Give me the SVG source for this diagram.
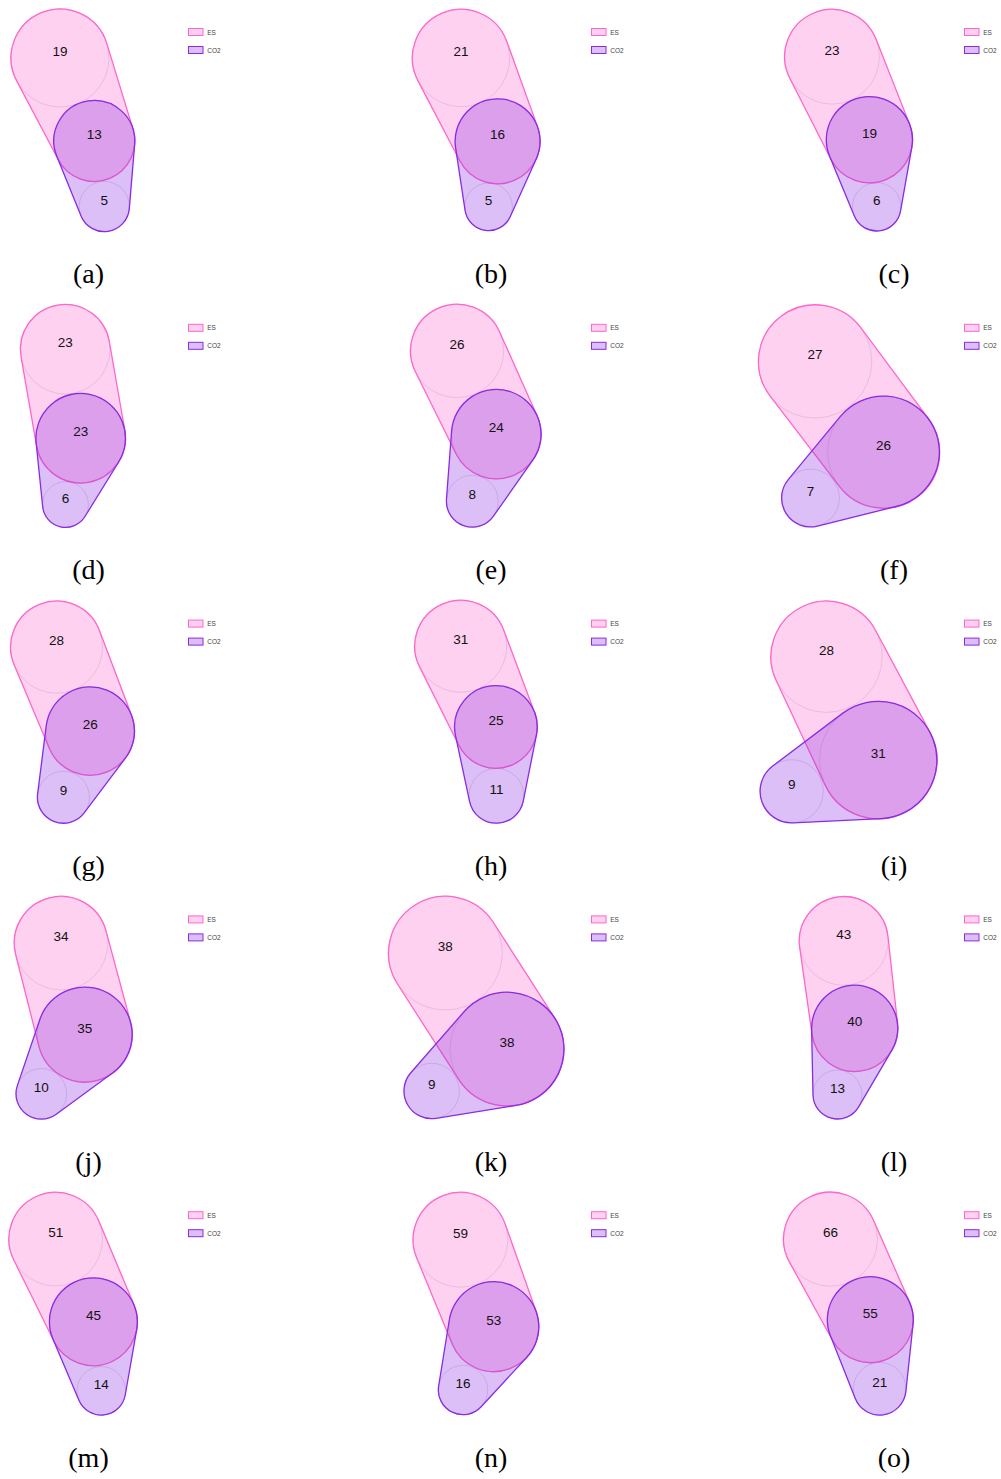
<svg xmlns="http://www.w3.org/2000/svg" width="1001" height="1479" viewBox="0 0 1001 1479">
<style>
.es{fill:#ff66cc;fill-opacity:0.3;stroke:#ff66cc;stroke-width:1.3}
.co{fill:#8a2be2;fill-opacity:0.3;stroke:#8a2be2;stroke-width:1.3}
.gc{fill:none;stroke:#000;stroke-opacity:0.15;stroke-width:0.8}
.lbl{font-family:"Liberation Sans",Arial,sans-serif;font-size:13.5px;text-anchor:middle;fill:#111}
.lg{font-family:"Liberation Sans",Arial,sans-serif;font-size:6.5px;fill:#444}
.cap{font-family:"Liberation Serif","Times New Roman",serif;font-size:28px;text-anchor:middle;fill:#000}
.les{fill:#ff66cc;fill-opacity:0.3;stroke:#ff66cc;stroke-width:1}
.lco{fill:#8a2be2;fill-opacity:0.3;stroke:#8a2be2;stroke-width:1}
</style>
<rect width="1001" height="1479" fill="#fff"/>
<defs>
<g id="legend">
<rect class="les" x="0" y="0" width="14.5" height="7"/>
<text class="lg" x="18.7" y="6">ES</text>
<rect class="lco" x="0" y="18" width="14.5" height="7"/>
<text class="lg" x="18.7" y="24">CO2</text>
</g>
</defs>

<g id="connectors"></g>

<!-- (a) -->
<g id="panel-a">
<circle class="gc" cx="60" cy="58" r="49"/><circle class="gc" cx="94.3" cy="141" r="40.5"/><circle class="gc" cx="104.3" cy="206.5" r="25.1"/>
<path id="a-es" class="es" d="M16.69,80.91 L58.5,159.94 A40.5,40.5 0 0 0 133.02,129.14 L106.85,43.65 A49,49 0 1 0 16.69,80.91 Z"/>
<path id="a-co2" class="co" d="M56.78,156.25 L81.05,215.95 A25.1,25.1 0 0 0 129.31,208.58 L134.66,144.36 A40.5,40.5 0 1 0 56.78,156.25 Z"/>
<text class="lbl" x="60" y="56">19</text><text class="lbl" x="94.3" y="139">13</text><text class="lbl" x="104.3" y="204.5">5</text>
<use href="#legend" x="188.5" y="28.5"/>
<text class="cap" x="88.5" y="283">(a)</text>
</g>

<!-- (b) -->
<g id="panel-b">
<circle class="gc" cx="461" cy="58" r="48.7"/><circle class="gc" cx="497.6" cy="141.3" r="42.5"/><circle class="gc" cx="488.6" cy="206.8" r="23.8"/>
<path id="b-es" class="es" d="M417.85,80.58 L459.94,161 A42.5,42.5 0 0 0 537.58,126.89 L506.82,41.49 A48.7,48.7 0 1 0 417.85,80.58 Z"/>
<path id="b-co2" class="co" d="M455.58,147.66 L465.07,210.36 A23.8,23.8 0 0 0 510.3,216.57 L536.35,158.75 A42.5,42.5 0 1 0 455.58,147.66 Z"/>
<text class="lbl" x="461" y="56">21</text><text class="lbl" x="497.6" y="139.3">16</text><text class="lbl" x="488.6" y="204.8">5</text>
<use href="#legend" x="591.5" y="28.5"/>
<text class="cap" x="491" y="283">(b)</text>
</g>

<!-- (c) -->
<g id="panel-c">
<circle class="gc" cx="832" cy="56.7" r="47.4"/><circle class="gc" cx="869.4" cy="139.7" r="43.1"/><circle class="gc" cx="876.7" cy="206.8" r="24.2"/>
<path id="c-es" class="es" d="M789.75,78.19 L830.98,159.24 A43.1,43.1 0 0 0 909.49,123.87 L876.09,39.29 A47.4,47.4 0 1 0 789.75,78.19 Z"/>
<path id="c-co2" class="co" d="M829.58,156.17 L854.34,216.05 A24.2,24.2 0 0 0 900.53,211.02 L911.84,147.22 A43.1,43.1 0 1 0 829.58,156.17 Z"/>
<text class="lbl" x="832" y="54.7">23</text><text class="lbl" x="869.4" y="137.7">19</text><text class="lbl" x="876.7" y="204.8">6</text>
<use href="#legend" x="964.5" y="28.5"/>
<text class="cap" x="894" y="283">(c)</text>
</g>

<!-- (d) -->
<g id="panel-d">
<circle class="gc" cx="65.2" cy="349.2" r="44.8"/><circle class="gc" cx="80.7" cy="438.2" r="44.8"/><circle class="gc" cx="65.5" cy="504.5" r="22.9"/>
<path id="d-es" class="es" d="M21.06,356.89 L36.56,445.89 A44.8,44.8 0 0 0 124.84,430.51 L109.34,341.51 A44.8,44.8 0 0 0 21.06,356.89 Z"/>
<path id="d-co2" class="co" d="M36.13,442.78 L42.72,506.84 A22.9,22.9 0 0 0 84.98,516.53 L118.82,461.74 A44.8,44.8 0 1 0 36.13,442.78 Z"/>
<text class="lbl" x="65.2" y="347.2">23</text><text class="lbl" x="80.7" y="436.2">23</text><text class="lbl" x="65.5" y="502.5">6</text>
<use href="#legend" x="188.5" y="324.3"/>
<text class="cap" x="88.5" y="579">(d)</text>
</g>

<!-- (e) -->
<g id="panel-e">
<circle class="gc" cx="457.1" cy="351" r="46.6"/><circle class="gc" cx="496.3" cy="434.2" r="44.8"/><circle class="gc" cx="472.3" cy="501.2" r="25.9"/>
<path id="e-es" class="es" d="M415.35,371.68 L456.16,454.08 A44.8,44.8 0 0 0 537.19,415.9 L499.64,331.97 A46.6,46.6 0 1 0 415.35,371.68 Z"/>
<path id="e-co2" class="co" d="M451.63,430.84 L446.47,499.25 A25.9,25.9 0 0 0 493.49,516.1 L532.95,459.96 A44.8,44.8 0 1 0 451.63,430.84 Z"/>
<text class="lbl" x="457.1" y="349">26</text><text class="lbl" x="496.3" y="432.2">24</text><text class="lbl" x="472.3" y="499.2">8</text>
<use href="#legend" x="591.5" y="324.3"/>
<text class="cap" x="491" y="579">(e)</text>
</g>

<!-- (f) -->
<g id="panel-f">
<circle class="gc" cx="815" cy="361.3" r="56.8"/><circle class="gc" cx="883.5" cy="452" r="55.9"/><circle class="gc" cx="810.5" cy="498" r="28.9"/>
<path id="f-es" class="es" d="M769.95,395.89 L839.16,486.04 A55.9,55.9 0 0 0 928.38,418.66 L860.6,327.42 A56.8,56.8 0 1 0 769.95,395.89 Z"/>
<path id="f-co2" class="co" d="M840.4,416.4 L788.22,479.6 A28.9,28.9 0 0 0 817.48,526.04 L897.01,506.25 A55.9,55.9 0 1 0 840.4,416.4 Z"/>
<text class="lbl" x="815" y="359.3">27</text><text class="lbl" x="883.5" y="450">26</text><text class="lbl" x="810.5" y="496">7</text>
<use href="#legend" x="964.5" y="324.3"/>
<text class="cap" x="894" y="579">(f)</text>
</g>

<!-- (g) -->
<g id="panel-g">
<circle class="gc" cx="56.6" cy="647.2" r="46"/><circle class="gc" cx="90.2" cy="731.2" r="44.3"/><circle class="gc" cx="63.4" cy="797.2" r="26"/>
<path id="g-es" class="es" d="M14.22,665.08 L49.39,748.42 A44.3,44.3 0 0 0 131.63,715.53 L99.62,630.93 A46,46 0 1 0 14.22,665.08 Z"/>
<path id="g-co2" class="co" d="M46.25,725.64 L37.61,793.93 A26,26 0 0 0 84.17,812.84 L125.59,757.85 A44.3,44.3 0 1 0 46.25,725.64 Z"/>
<text class="lbl" x="56.6" y="645.2">28</text><text class="lbl" x="90.2" y="729.2">26</text><text class="lbl" x="63.4" y="795.2">9</text>
<use href="#legend" x="188.5" y="620.1"/>
<text class="cap" x="88.5" y="875">(g)</text>
</g>

<!-- (h) -->
<g id="panel-h">
<circle class="gc" cx="460.7" cy="646.3" r="46"/><circle class="gc" cx="495.9" cy="727" r="41.3"/><circle class="gc" cx="496.4" cy="795.8" r="27.4"/>
<path id="h-es" class="es" d="M419.58,666.91 L458.98,745.51 A41.3,41.3 0 0 0 534.58,712.53 L503.78,630.19 A46,46 0 1 0 419.58,666.91 Z"/>
<path id="h-co2" class="co" d="M455.51,735.64 L469.61,801.53 A27.4,27.4 0 0 0 523.28,801.14 L536.41,735.05 A41.3,41.3 0 1 0 455.51,735.64 Z"/>
<text class="lbl" x="460.7" y="644.3">31</text><text class="lbl" x="495.9" y="725">25</text><text class="lbl" x="496.4" y="793.8">11</text>
<use href="#legend" x="591.5" y="620.1"/>
<text class="cap" x="491" y="875">(h)</text>
</g>

<!-- (i) -->
<g id="panel-i">
<circle class="gc" cx="826.5" cy="656.7" r="55.7"/><circle class="gc" cx="878.2" cy="760" r="58.7"/><circle class="gc" cx="791.7" cy="791.3" r="31.6"/>
<path id="i-es" class="es" d="M776.06,680.33 L825.05,784.9 A58.7,58.7 0 1 0 929.99,732.38 L875.64,630.49 A55.7,55.7 0 0 0 776.06,680.33 Z"/>
<path id="i-co2" class="co" d="M842.85,713.14 L772.67,766.07 A31.6,31.6 0 0 0 793.22,822.87 L881.03,818.64 A58.7,58.7 0 1 0 842.85,713.14 Z"/>
<text class="lbl" x="826.5" y="654.7">28</text><text class="lbl" x="878.2" y="758">31</text><text class="lbl" x="791.7" y="789.3">9</text>
<use href="#legend" x="964.5" y="620.1"/>
<text class="cap" x="894" y="875">(i)</text>
</g>

<!-- (j) -->
<g id="panel-j">
<circle class="gc" cx="61" cy="943.3" r="46.7"/><circle class="gc" cx="84.8" cy="1034.5" r="47.4"/><circle class="gc" cx="41.3" cy="1093.8" r="25.3"/>
<path id="j-es" class="es" d="M15.72,954.76 L38.85,1046.13 A47.4,47.4 0 1 0 130.57,1022.19 L106.1,931.17 A46.7,46.7 0 0 0 15.72,954.76 Z"/>
<path id="j-co2" class="co" d="M39.92,1019.24 L17.35,1085.66 A25.3,25.3 0 0 0 56.26,1114.2 L112.83,1072.73 A47.4,47.4 0 1 0 39.92,1019.24 Z"/>
<text class="lbl" x="61" y="941.3">34</text><text class="lbl" x="84.8" y="1032.5">35</text><text class="lbl" x="41.3" y="1091.8">10</text>
<use href="#legend" x="188.5" y="915.9"/>
<text class="cap" x="88.5" y="1171">(j)</text>
</g>

<!-- (k) -->
<g id="panel-k">
<circle class="gc" cx="445.3" cy="953" r="57"/><circle class="gc" cx="507" cy="1049.2" r="57"/><circle class="gc" cx="431.7" cy="1091" r="27.7"/>
<path id="k-es" class="es" d="M397.32,983.77 L459.02,1079.97 A57,57 0 0 0 554.98,1018.43 L493.28,922.23 A57,57 0 0 0 397.32,983.77 Z"/>
<path id="k-co2" class="co" d="M464.02,1011.74 L410.81,1072.8 A27.7,27.7 0 0 0 436.1,1118.35 L516.06,1105.48 A57,57 0 1 0 464.02,1011.74 Z"/>
<text class="lbl" x="445.3" y="951">38</text><text class="lbl" x="507" y="1047.2">38</text><text class="lbl" x="431.7" y="1089">9</text>
<use href="#legend" x="591.5" y="915.9"/>
<text class="cap" x="491" y="1171">(k)</text>
</g>

<!-- (l) -->
<g id="panel-l">
<circle class="gc" cx="843.7" cy="940.8" r="44.5"/><circle class="gc" cx="854.7" cy="1028.3" r="43.1"/><circle class="gc" cx="837.5" cy="1094.5" r="24.5"/>
<path id="l-es" class="es" d="M799.64,947.05 L812.03,1034.36 A43.1,43.1 0 0 0 897.55,1023.61 L887.94,935.95 A44.5,44.5 0 1 0 799.64,947.05 Z"/>
<path id="l-co2" class="co" d="M811.61,1029.21 L813.01,1095.02 A24.5,24.5 0 0 0 858.64,1106.87 L891.89,1050.07 A43.1,43.1 0 1 0 811.61,1029.21 Z"/>
<text class="lbl" x="843.7" y="938.8">43</text><text class="lbl" x="854.7" y="1026.3">40</text><text class="lbl" x="837.5" y="1092.5">13</text>
<use href="#legend" x="964.5" y="915.9"/>
<text class="cap" x="894" y="1171">(l)</text>
</g>

<!-- (m) -->
<g id="panel-m">
<circle class="gc" cx="55.7" cy="1239.2" r="46.8"/><circle class="gc" cx="93.4" cy="1321.8" r="44"/><circle class="gc" cx="101.3" cy="1390.8" r="24.3"/>
<path id="m-es" class="es" d="M13.75,1259.93 L53.96,1341.29 A44,44 0 0 0 133.97,1304.77 L98.85,1221.09 A46.8,46.8 0 1 0 13.75,1259.93 Z"/>
<path id="m-co2" class="co" d="M52.9,1339 L78.93,1400.3 A24.3,24.3 0 0 0 125.24,1395 L136.74,1329.4 A44,44 0 1 0 52.9,1339 Z"/>
<text class="lbl" x="55.7" y="1237.2">51</text><text class="lbl" x="93.4" y="1319.8">45</text><text class="lbl" x="101.3" y="1388.8">14</text>
<use href="#legend" x="188.5" y="1211.7"/>
<text class="cap" x="88.5" y="1467">(m)</text>
</g>

<!-- (n) -->
<g id="panel-n">
<circle class="gc" cx="460.5" cy="1239.8" r="47.4"/><circle class="gc" cx="493.8" cy="1326.7" r="45"/><circle class="gc" cx="463" cy="1390" r="24.7"/>
<path id="n-es" class="es" d="M416.69,1257.9 L452.21,1343.88 A45,45 0 0 0 536.22,1311.69 L505.18,1223.99 A47.4,47.4 0 1 0 416.69,1257.9 Z"/>
<path id="n-co2" class="co" d="M449.38,1319.52 L438.62,1386.06 A24.7,24.7 0 0 0 481.15,1406.75 L526.87,1357.22 A45,45 0 1 0 449.38,1319.52 Z"/>
<text class="lbl" x="460.5" y="1237.8">59</text><text class="lbl" x="493.8" y="1324.7">53</text><text class="lbl" x="463" y="1388">16</text>
<use href="#legend" x="591.5" y="1211.7"/>
<text class="cap" x="491" y="1467">(n)</text>
</g>

<!-- (o) -->
<g id="panel-o">
<circle class="gc" cx="830.5" cy="1239.2" r="47"/><circle class="gc" cx="870.3" cy="1319.7" r="43"/><circle class="gc" cx="879.7" cy="1388.8" r="26.3"/>
<path id="o-es" class="es" d="M789.34,1261.89 L832.64,1340.46 A43,43 0 0 0 909.65,1302.38 L873.51,1220.26 A47,47 0 1 0 789.34,1261.89 Z"/>
<path id="o-co2" class="co" d="M830.32,1335.53 L855.25,1398.48 A26.3,26.3 0 0 0 905.85,1391.6 L913.05,1324.28 A43,43 0 1 0 830.32,1335.53 Z"/>
<text class="lbl" x="830.5" y="1237.2">66</text><text class="lbl" x="870.3" y="1317.7">55</text><text class="lbl" x="879.7" y="1386.8">21</text>
<use href="#legend" x="964.5" y="1211.7"/>
<text class="cap" x="894" y="1467">(o)</text>
</g>
</svg>
